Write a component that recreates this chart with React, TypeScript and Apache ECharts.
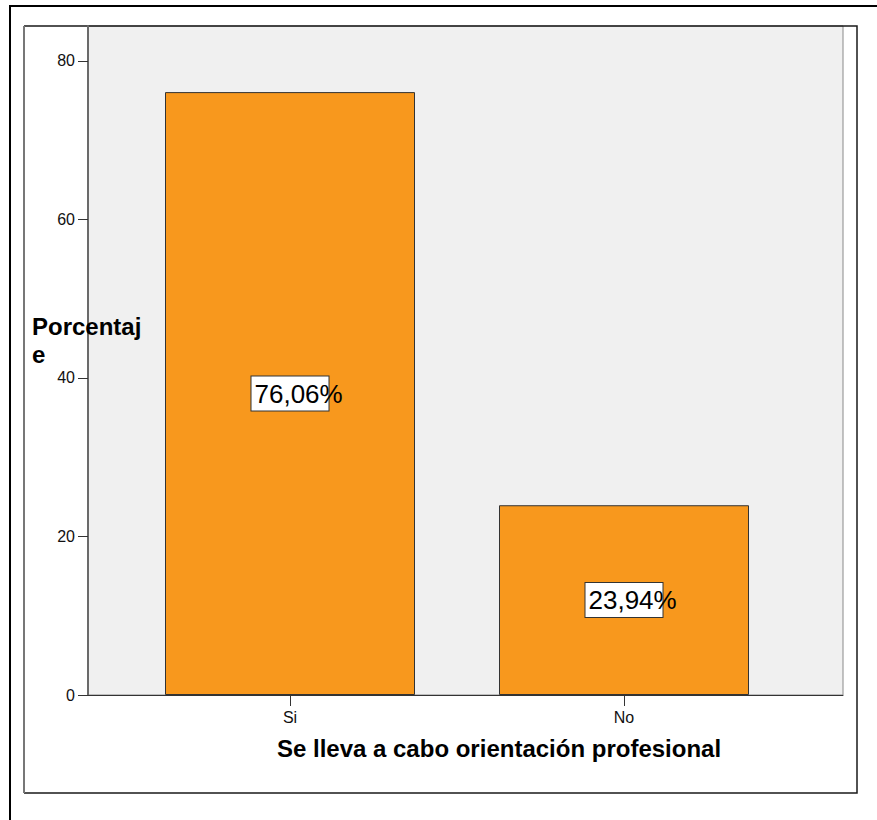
import React, { useEffect, useRef } from "react";
import * as echarts from "echarts";

// Response categories and their percentages
const categories = ["Si", "No"];
const percentages = [76.06, 23.94];
const yTicksMax = 84.4;
const yTickStep = 20;
const xTitle = "Se lleva a cabo orientación profesional";
const yTitle = "Porcentaj\ne";

const FONT = "Liberation Sans, Arial, Helvetica, sans-serif";

export default function App() {
  const ref = useRef<HTMLDivElement>(null);

  useEffect(() => {
    if (!ref.current) return;
    const chart = echarts.init(ref.current, null, { renderer: "svg" });

    const fmt = (v: number) => v.toFixed(2).replace(".", ",") + "%";

    chart.setOption({
      animation: false,
      backgroundColor: "#ffffff",
      textStyle: { fontFamily: FONT },
      grid: [
        {
          // plot frame with the grey background
          left: 88,
          top: 26,
          width: 755,
          height: 669,
          show: true,
          backgroundColor: "#F0F0F0",
          borderColor: "#8a8a8a",
          borderWidth: 1,
        },
        {
          // bar area
          left: 123,
          top: 26,
          width: 668,
          height: 669,
        },
      ],
      xAxis: [
        {
          gridIndex: 0,
          type: "value",
          min: 0,
          max: 1,
          axisLine: { show: true, lineStyle: { color: "#333", width: 1 } },
          axisTick: { show: false },
          axisLabel: { show: false },
          splitLine: { show: false },
        },
        {
          gridIndex: 1,
          type: "category",
          data: categories,
          axisLine: { show: false },
          axisTick: {
            show: true,
            alignWithLabel: true,
            length: 11,
            lineStyle: { color: "#333" },
          },
          axisLabel: {
            fontSize: 16,
            color: "#111",
            margin: 14,
            fontFamily: FONT,
          },
          splitLine: { show: false },
        },
      ],
      yAxis: [
        {
          gridIndex: 0,
          type: "value",
          min: 0,
          max: yTicksMax,
          interval: yTickStep,
          offset: 1,
          axisLine: { show: true, lineStyle: { color: "#6a6a6a", width: 2 } },
          axisTick: {
            show: true,
            inside: false,
            length: 10,
            lineStyle: { color: "#333" },
          },
          axisLabel: {
            fontSize: 16,
            color: "#111",
            margin: 12,
            fontFamily: FONT,
            showMaxLabel: false,
          },
          splitLine: { show: false },
        },
        {
          gridIndex: 1,
          type: "value",
          min: 0,
          max: yTicksMax,
          show: false,
          splitLine: { show: false },
        },
      ],
      series: [
        {
          type: "bar",
          xAxisIndex: 1,
          yAxisIndex: 1,
          data: percentages,
          barWidth: 250,
          itemStyle: {
            color: "#F8981D",
            borderColor: "#333",
            borderWidth: 1,
          },
          label: {
            show: true,
            position: "inside",
            formatter: (p: any) => "{b|" + fmt(p.value) + "}",
            rich: {
              b: {
                width: 74,
                height: 30,
                align: "left",
                fontSize: 26,
                fontFamily: FONT,
                color: "#000",
                backgroundColor: "#ffffff",
                borderColor: "#333",
                borderWidth: 1,
                padding: [2, 0, 2, 3],
              },
            },
          },
        },
      ],
      graphic: [
        // outer frame
        {
          type: "polyline",
          shape: { points: [[10, 820], [10, 6], [877, 6]] },
          style: { stroke: "#000", lineWidth: 2, fill: null },
          silent: true,
        },
        // inner frame
        {
          type: "polyline",
          shape: { points: [[24, 26], [857, 26], [857, 793], [24, 793]] },
          style: { stroke: "#1a1a1a", lineWidth: 1.5, fill: null },
          silent: true,
        },
        {
          type: "line",
          shape: { x1: 24, y1: 26, x2: 24, y2: 793 },
          style: { stroke: "#777", lineWidth: 2 },
          silent: true,
        },
        {
          type: "text",
          x: 32,
          y: 312,
          style: {
            text: yTitle,
            font: `bold 24px ${FONT}`,
            lineHeight: 28,
            fill: "#000",
            textAlign: "left",
            textVerticalAlign: "top",
          },
          z: 100,
        },
        {
          type: "text",
          x: 499,
          y: 748,
          style: {
            text: xTitle,
            font: `bold 24px ${FONT}`,
            fill: "#000",
            textAlign: "center",
            textVerticalAlign: "middle",
          },
        },
      ],
    });

    return () => chart.dispose();
  }, []);

  return (
    <div
      ref={ref}
      style={{
        position: "fixed",
        left: 0,
        top: 0,
        width: 877,
        height: 820,
        background: "#fff",
      }}
    />
  );
}
